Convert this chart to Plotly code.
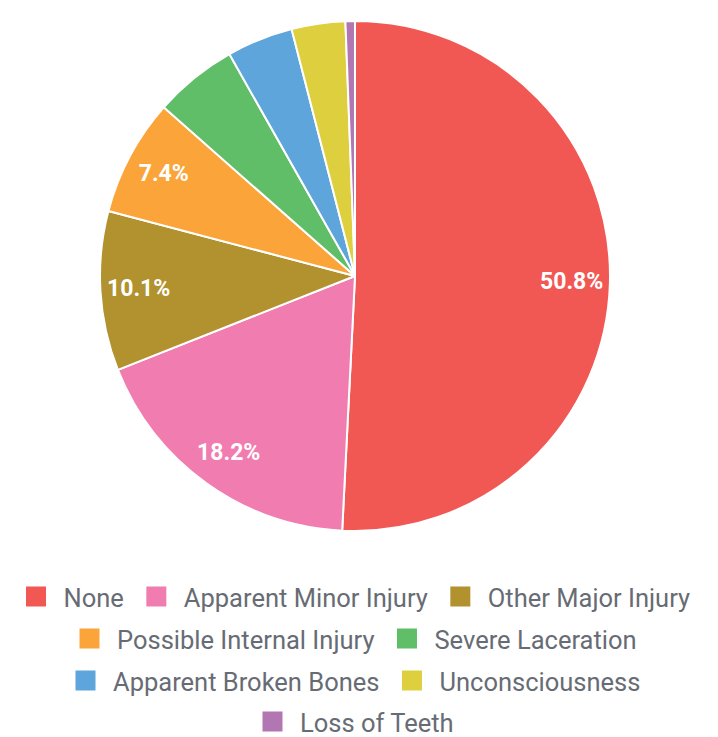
import plotly.graph_objects as go

labels = ["None", "Apparent Minor Injury", "Other Major Injury", "Possible Internal Injury",
          "Severe Laceration", "Apparent Broken Bones", "Unconsciousness", "Loss of Teeth"]
values = [50.8, 18.2, 10.1, 7.4, 5.3, 4.2, 3.4, 0.6]
colors = ["#F15854", "#F17CB0", "#B2912F", "#FAA43A", "#60BD68", "#5DA5DA", "#DECF3F", "#B276B2"]

# legend rows as drawn (centred rows)
legend_rows = [
    ["None", "Apparent Minor Injury", "Other Major Injury"],
    ["Possible Internal Injury", "Severe Laceration"],
    ["Apparent Broken Bones", "Unconsciousness"],
    ["Loss of Teeth"],
]

# page body has an 8px margin, so the figure is drawn 8px in from the corner
OFF = 8
W, H = 718 - OFF, 737 - OFF
pie_domain = dict(x=[(100 - OFF) / W, (610 - OFF) / W],
                  y=[(H - (531 - OFF)) / H, (H - (21 - OFF)) / H])

# only the four biggest slices get a label
texts = [f"{v:.1f}%" if v >= 7 else "" for v in values]

fig = go.Figure()
fig.add_trace(go.Pie(
    labels=labels, values=values, sort=False, direction="clockwise", rotation=0,
    marker=dict(colors=colors, line=dict(color="white", width=2)),
    textinfo="none", showlegend=False, hoverinfo="label+percent",
    domain=pie_domain,
))
# transparent ring on top, only to push the labels out towards the rim
fig.add_trace(go.Pie(
    labels=labels, values=values, sort=False, direction="clockwise", rotation=0,
    hole=0.7,
    marker=dict(colors=["rgba(0,0,0,0)"] * len(values), line=dict(width=0)),
    text=texts, textinfo="text", textposition="inside",
    insidetextorientation="horizontal",
    textfont=dict(family="Roboto", size=23, color="white", weight="bold"),
    showlegend=False, hoverinfo="skip",
    domain=pie_domain,
))

row_y = [597, 639, 681, 722]
for i, row in enumerate(legend_rows):
    lg = "legend" if i == 0 else f"legend{i + 1}"
    for name in row:
        c = colors[labels.index(name)]
        fig.add_trace(go.Scatter(
            x=[None], y=[None], mode="markers", name=name,
            marker=dict(symbol="square", size=16, color=c, line=dict(color=c, width=4)),
            legend=lg, showlegend=True,
        ))
    fig.update_layout({lg: dict(
        orientation="h", x=(352 - OFF) / W, xanchor="center",
        y=1 - (row_y[i] - OFF) / H, yanchor="middle",
        font=dict(family="Roboto", size=25.5, color="#676c74"),
        itemwidth=45,
        bgcolor="rgba(0,0,0,0)", itemclick=False, itemdoubleclick=False,
    )})

fig.update_layout(
    width=W, height=H,
    margin=dict(l=0, r=0, t=0, b=0, autoexpand=False),
    paper_bgcolor="white", plot_bgcolor="white",
    xaxis=dict(visible=False), yaxis=dict(visible=False),
)

fig.write_html("out.html")
